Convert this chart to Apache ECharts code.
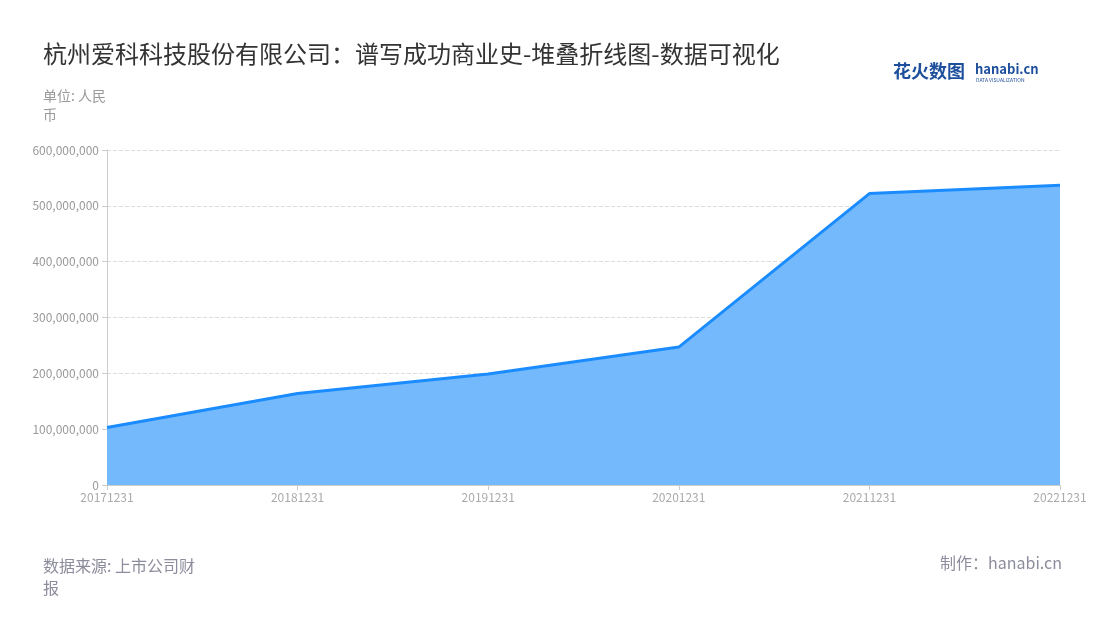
<!DOCTYPE html>
<html>
<head>
<meta charset="utf-8">
<title>杭州爱科科技股份有限公司</title>
<script src="https://cdn.jsdelivr.net/npm/echarts@6/dist/echarts.min.js"></script>
<style>
  html, body { margin: 0; padding: 0; background: #fff; }
  #main { width: 1100px; height: 620px; }
</style>
</head>
<body>
<div id="main"></div>
<script>
// 报告期
var categories = ['20171231', '20181231', '20191231', '20201231', '20211231', '20221231'];
// 数值（人民币）
var values = [103000000, 164000000, 199000000, 247000000, 522000000, 537000000];
var yTicks = { min: 0, max: 600000000, interval: 100000000 };

var FONT = '"Noto Sans CJK SC", "Noto Sans", sans-serif';

var myChart = echarts.init(document.getElementById('main'));

var option = {
    backgroundColor: '#fff',
    textStyle: { fontFamily: FONT },
    title: [{
        text: '杭州爱科科技股份有限公司：谱写成功商业史-堆叠折线图-数据可视化',
        left: 38,
        top: 37,
        textStyle: { fontSize: 24, fontWeight: 'normal', color: '#333', fontFamily: FONT }
    }, {
        text: '单位: 人民币',
        left: 38,
        top: 81,
        textStyle: { fontSize: 14, fontWeight: 'normal', color: '#999', fontFamily: FONT, width: 72, overflow: 'break', lineHeight: 19 }
    }, {
        text: '数据来源: 上市公司财报',
        left: 38,
        top: 550,
        textStyle: { fontSize: 16, fontWeight: 'normal', color: '#8c8c9c', fontFamily: FONT, width: 170, overflow: 'break', lineHeight: 22 }
    }, {
        text: '制作：hanabi.cn',
        right: 33,
        top: 550,
        textStyle: { fontSize: 16, fontWeight: 'normal', color: '#8c8c9c', fontFamily: FONT }
    }],
    graphic: [{
        type: 'text',
        left: 893,
        top: 62,
        style: { text: '花火数图', fontSize: 18, fontWeight: 'bold', fill: '#1d4f9c', fontFamily: FONT }
    }, {
        type: 'text',
        left: 975,
        top: 63,
        style: { text: 'hanabi.cn', fontSize: 13, fontWeight: 'bold', fill: '#1d4f9c', fontFamily: FONT }
    }, {
        type: 'text',
        left: 976,
        top: 78,
        style: { text: 'DATA VISUALIZATION', fontSize: 5, fill: '#1d4f9c', fontFamily: FONT }
    }],
    grid: { left: 107, right: 40, top: 150, bottom: 135 },
    xAxis: {
        type: 'category',
        data: categories,
        boundaryGap: false,
        axisLine: { lineStyle: { color: '#ccc' } },
        axisTick: { show: true, lineStyle: { color: '#ccc' } },
        axisLabel: { color: '#aaa', fontSize: 12, margin: 6, fontFamily: FONT }
    },
    yAxis: {
        type: 'value',
        min: yTicks.min,
        max: yTicks.max,
        interval: yTicks.interval,
        axisLine: { show: true, lineStyle: { color: '#ccc' } },
        axisTick: { show: true, lineStyle: { color: '#ccc' } },
        axisLabel: {
            color: '#999',
            fontSize: 12,
            fontFamily: FONT,
            formatter: function (v) { return v.toLocaleString('en-US'); }
        },
        splitLine: { lineStyle: { color: '#ddd', type: 'dashed' } }
    },
    series: [{
        type: 'line',
        stack: 'total',
        data: values,
        symbol: 'none',
        lineStyle: { color: '#1a8cff', width: 3 },
        itemStyle: { color: '#1a8cff' },
        areaStyle: { color: '#74b9fc', opacity: 1 }
    }]
};

myChart.setOption(option);
window.onresize = myChart.resize;
</script>
</body>
</html>
